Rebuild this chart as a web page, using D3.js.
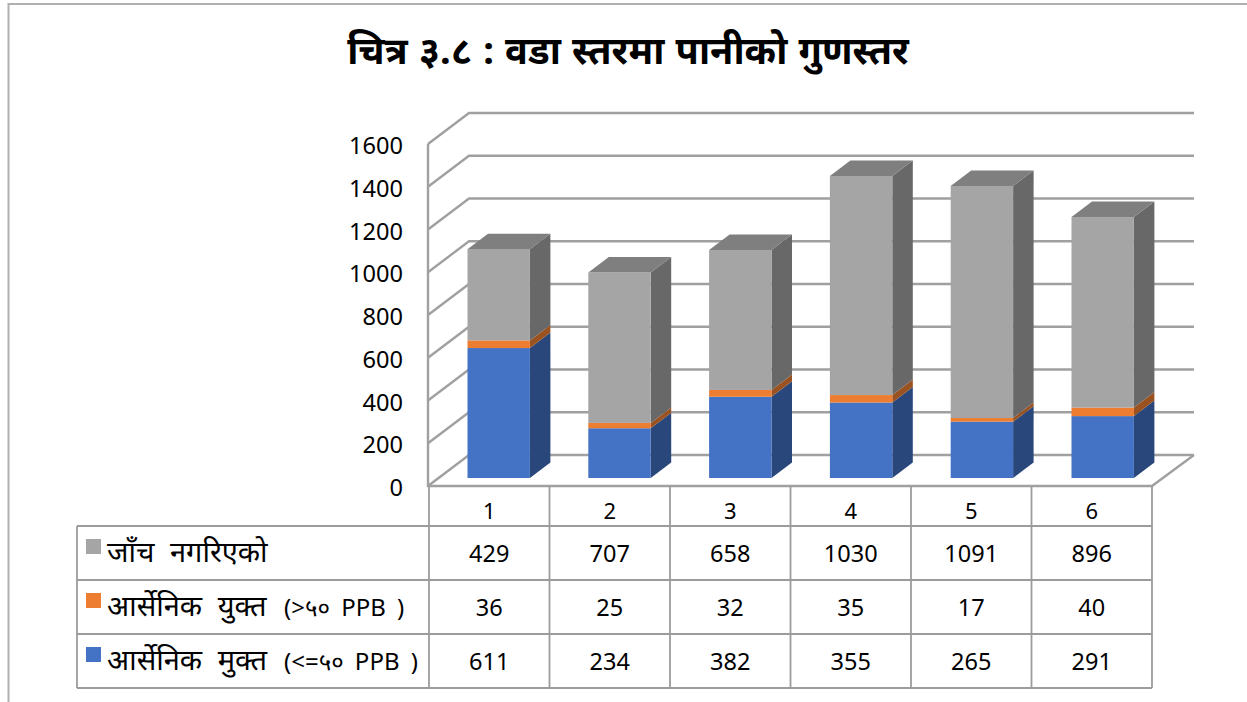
<!DOCTYPE html>
<html><head><meta charset="utf-8">
<script src="https://cdn.jsdelivr.net/npm/d3@7/dist/d3.min.js"></script>
<style>html,body{margin:0;background:#fff}svg{display:block}text{font-family:"Noto Sans","Noto Sans Devanagari","Open Sans",sans-serif;fill:#000}</style>
</head><body><svg id="c" width="1247" height="702"></svg>
<script>
const title = "चित्र ३.८ : वडा स्तरमा पानीको गुणस्तर";
const categories = ["1","2","3","4","5","6"];
const seriesNames = ["आर्सेनिक मुक्त","आर्सेनिक युक्त","जाँच नगरिएको"];
const seriesNotes = ["(<=५० PPB )","(>५० PPB )",""];
const free = [611,234,382,355,265,291];
const contaminated = [36,25,32,35,17,40];
const untested = [429,707,658,1030,1091,896];
const yTicks = [0,200,400,600,800,1000,1200,1400,1600];
const colors = ["#4472c4","#ed7d31","#a5a5a5"];
const sideColors = ["#2a477c","#9a5220","#686868"];
const topColor = "#7f7f7f";

const svg = d3.select("#c");
const grid = "#a0a0a0";
const y = d3.scaleLinear().domain([0,1600]).range([486,144]);
const yBar = d3.scaleLinear().domain([0,1600]).range([478,137.7]);
const x = d3.scaleBand().domain(categories).range([429,1152]);
const xBar = d3.scaleBand().domain(categories).range([438.3,1163.1]);
const depthX = 41, depthY = 31;
const barW = 62.4;

// page border
svg.append("path").attr("d","M8.5 702V4H1247").attr("fill","none").attr("stroke","#b0b0b0").attr("stroke-width",2);

// title
svg.append("text").attr("x",628).attr("y",64).attr("text-anchor","middle")
  .attr("font-size",38).attr("font-weight",700).attr("word-spacing",1.3).text(title);

// walls
const wall = svg.append("g").attr("fill","none").attr("stroke",grid).attr("stroke-width",2.4);
yTicks.forEach(t=>{
  wall.append("path").attr("d",`M428 ${y(t)}L${428+depthX} ${y(t)-depthY}H1194`);
});
wall.append("path").attr("d",`M428 ${y(1600)}V${y(0)}H1152L1194 ${y(0)-depthY}`);

// y labels
svg.append("g").selectAll("text").data(yTicks).join("text")
  .attr("x",403).attr("y",d=>y(d)+10).attr("text-anchor","end").attr("font-size",23.6).text(d=>d);

// bars
const stack = d3.stack().keys([0,1,2]).value((d,k)=>d[k])(categories.map((c,i)=>[free[i],contaminated[i],untested[i]]));
const dx = depthX/2, dy = 15.5;
stack.forEach((s,k)=>{
  const g = svg.append("g");
  s.forEach((d,i)=>{
    const l = xBar(categories[i]) + (xBar.bandwidth() - barW)/2;
    const t = yBar(d[1]), b = yBar(d[0]), r = l+barW;
    g.append("path").attr("d",`M${r} ${t}l${dx} ${-dy}V${b-dy}L${r} ${b}Z`).attr("fill",sideColors[k]);
    g.append("rect").attr("x",l).attr("y",t).attr("width",barW).attr("height",b-t).attr("fill",colors[k]);
    if(k===2) g.append("path").attr("d",`M${l} ${t}l${dx} ${-dy}H${r+dx}L${r} ${t}Z`).attr("fill",topColor);
  });
});

// data table
const rows = [untested,contaminated,free];
const order = [2,1,0];
const rowY = [526,580,634,688];
const tb = svg.append("g").attr("fill","none").attr("stroke","#9c9c9c").attr("stroke-width",1.8);
rowY.forEach(v=>tb.append("path").attr("d",`M77 ${v}H1152`));
tb.append("path").attr("d","M77 526V688");
d3.range(7).forEach(i=>{
  const vx = i<6 ? x(categories[i]) : 1152;
  tb.append("path").attr("d",`M${vx} 486V688`);
});
svg.append("g").selectAll("text").data(categories).join("text")
  .attr("x",d=>x(d)+x.bandwidth()/2).attr("y",519).attr("text-anchor","middle").attr("font-size",22).text(d=>d);
rows.forEach((r,ri)=>{
  const k = order[ri];
  svg.append("rect").attr("x",86).attr("y",rowY[ri]+13).attr("width",15).attr("height",15).attr("fill",colors[k]);
  svg.append("text").attr("x",107).attr("y",rowY[ri]+36).attr("font-size",29).attr("word-spacing",8).text(seriesNames[k]);
  if(seriesNotes[k]) svg.append("text").attr("x",284).attr("y",rowY[ri]+36).attr("font-size",24).attr("word-spacing",5).text(seriesNotes[k]);
  svg.append("g").selectAll("text").data(r).join("text")
    .attr("x",(d,i)=>x(categories[i])+x.bandwidth()/2).attr("y",rowY[ri]+36).attr("text-anchor","middle").attr("font-size",23.5).text(d=>d);
});
</script></body></html>
